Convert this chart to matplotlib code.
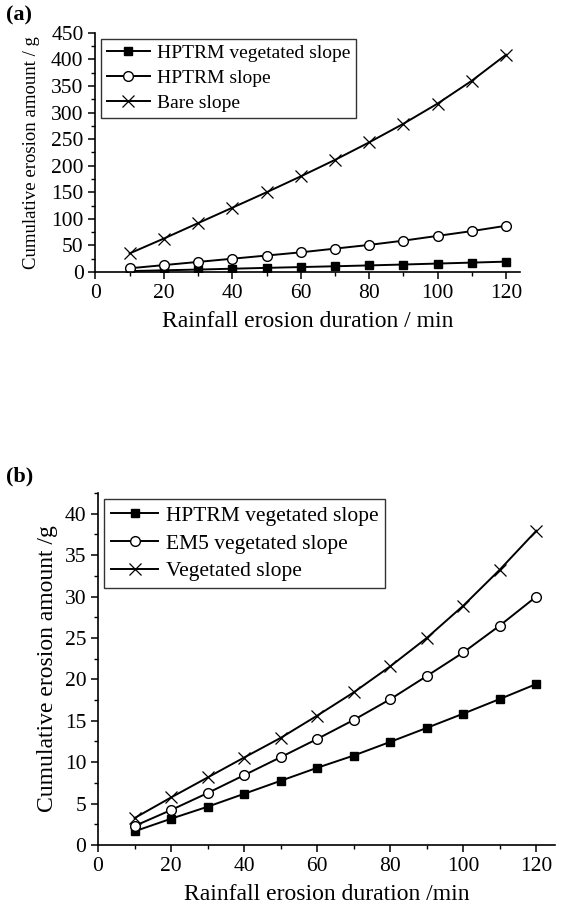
import numpy as np
import matplotlib
matplotlib.use("Agg")
import matplotlib.pyplot as plt
from matplotlib.ticker import MultipleLocator

plt.rcParams['font.family'] = ['Liberation Serif', 'DejaVu Serif']
plt.rcParams['mathtext.fontset'] = 'stix'

# --- DATA ---
minutes = [10, 20, 30, 40, 50, 60, 70, 80, 90, 100, 110, 120]

# panel (a)
a_hptrm_veg = [1.7, 3.2, 4.6, 6.2, 7.8, 9.3, 10.8, 12.4, 14.1, 15.9, 17.7, 19.5]
a_hptrm = [7, 13, 19, 25, 31, 37, 44, 51, 59, 68, 77, 87]
a_bare = [35, 63, 92, 121, 150, 180, 211, 244, 279, 317, 360, 409]

# panel (b)
b_hptrm_veg = [1.65, 3.17, 4.62, 6.18, 7.75, 9.32, 10.8, 12.45, 14.14, 15.86, 17.63, 19.44]
b_em5_veg = [2.29, 4.22, 6.27, 8.43, 10.6, 12.8, 15.1, 17.6, 20.4, 23.25, 26.5, 30.0]
b_veg = [3.25, 5.74, 8.15, 10.56, 12.93, 15.62, 18.43, 21.57, 25.0, 28.9, 33.25, 37.95]

labels_a = ["HPTRM vegetated slope", "HPTRM slope", "Bare slope"]
labels_b = ["HPTRM vegetated slope", "EM5 vegetated slope", "Vegetated slope"]

fig = plt.figure(figsize=(5.68, 9.14), dpi=100)
ax1 = fig.add_axes([0.168, 0.7024, 0.747, 0.2616])
ax2 = fig.add_axes([0.1725, 0.0755, 0.804, 0.3851])

styles = [
    dict(marker='s', markersize=6, markerfacecolor='black'),
    dict(marker='o', markersize=7, markerfacecolor='white'),
    dict(marker='x', markersize=8, markeredgewidth=0.9),
]


def draw(ax, series, labels, legend_size, spacing):
    for ys, lab, st in zip(series, labels, styles):
        ax.plot(minutes, ys, color='black', lw=1.4, markeredgecolor='black',
                label=lab, **st)
    for s in ['top', 'right']:
        ax.spines[s].set_visible(False)
    for s in ['left', 'bottom']:
        ax.spines[s].set_linewidth(1.2)
    ax.tick_params(which='major', direction='out', length=5, width=1.1, labelsize=15.5)
    ax.tick_params(which='minor', direction='out', length=3, width=1.0)
    ax.xaxis.set_major_locator(MultipleLocator(20))
    ax.xaxis.set_minor_locator(MultipleLocator(10))
    leg = ax.legend(loc='upper left', fontsize=legend_size, frameon=True, fancybox=False,
                    edgecolor='black', handlelength=2.2, labelspacing=spacing,
                    borderpad=0.3, handletextpad=0.35, borderaxespad=0.3)
    leg.get_frame().set_linewidth(1.0)


draw(ax1, [a_hptrm_veg, a_hptrm, a_bare], labels_a, 14, 0.38)
ax1.set_xlim(0, 124)
ax1.set_ylim(0, 450)
ax1.yaxis.set_major_locator(MultipleLocator(50))
ax1.yaxis.set_minor_locator(MultipleLocator(25))
ax1.set_xlabel("Rainfall erosion duration / min", fontsize=17, labelpad=6)
ax1.set_ylabel("Cumulative erosion amount / g", fontsize=13.5, labelpad=8)

draw(ax2, [b_hptrm_veg, b_em5_veg, b_veg], labels_b, 15.5, 0.35)
ax2.set_xlim(0, 125)
ax2.set_ylim(0, 42.5)
ax2.yaxis.set_major_locator(MultipleLocator(5))
ax2.yaxis.set_minor_locator(MultipleLocator(2.5))
ax2.set_xlabel("Rainfall erosion duration /min", fontsize=17, labelpad=6)
ax2.set_ylabel("Cumulative erosion amount /g", fontsize=17, labelpad=5)

fig.text(0.010, 0.994, "(a)", fontsize=16, fontweight='bold', va='top', ha='left')
fig.text(0.010, 0.490, "(b)", fontsize=16, fontweight='bold', va='top', ha='left')

fig.savefig("out.png", dpi=100)
